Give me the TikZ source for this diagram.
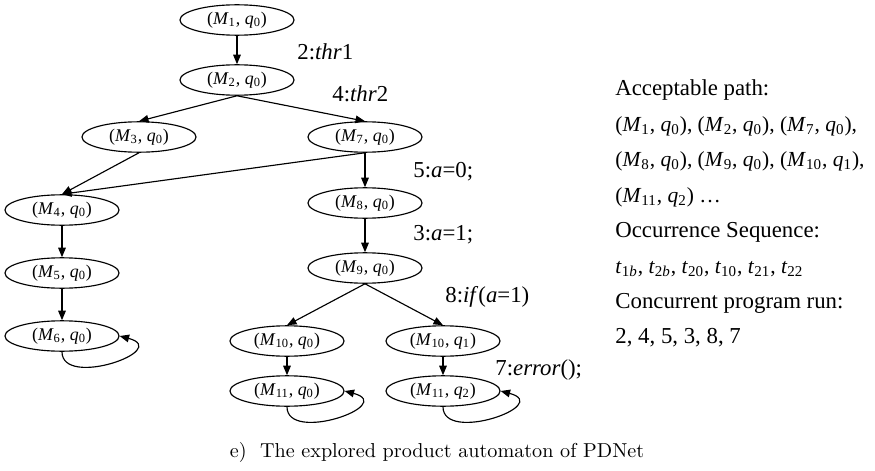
\documentclass[tikz,border=0pt]{standalone}
\usepackage{fontspec}
\newfontfamily\tnr{Liberation Serif}
\usetikzlibrary{shapes.geometric,arrows.meta}
\newcommand{\pq}[2]{(\textit{M}\textsubscript{#1}, \textit{q}\textsubscript{#2})}
\newcommand{\tsub}[1]{\textit{t}\textsubscript{#1}}
\newcommand{\mfs}{\fontsize{11.3}{14}\selectfont}

\begin{document}
\begin{tikzpicture}[x=0.526pt,y=-0.526pt,
		state/.style={ellipse,draw,semithick,minimum width=60pt,minimum height=16pt,inner sep=0pt,
			font=\tnr\fontsize{9.4}{12}\selectfont},
		lbl/.style={anchor=west,inner sep=0pt,font=\tnr\fontsize{12}{14}\selectfont},
		>={Triangle[length=5pt,width=4pt]}
		]
		\useasboundingbox (0,0) rectangle (875,471);
		
		\node[state](M1) at (237,20){\pq{1}{0}};
		\node[state](M2) at (237,80){\pq{2}{0}};
		\node[state](M3) at (139,137){\pq{3}{0}};
		\node[state](M7) at (365,137){\pq{7}{0}};
		\node[state](M4) at (62,210){\pq{4}{0}};
		\node[state](M5) at (62,273){\pq{5}{0}};
		\node[state](M6) at (62,336){\pq{6}{0}};
		\node[state](M8) at (365,203){\pq{8}{0}};
		\node[state](M9) at (365,268){\pq{9}{0}};
		\node[state](M10a) at (287,341){\pq{10}{0}};
		\node[state](M10b) at (443,341){\pq{10}{1}};
		\node[state](M11a) at (287,391){\pq{11}{0}};
		\node[state](M11b) at (443,391){\pq{11}{2}};
		
		% statement labels
		\node[lbl](L1) at (297,52){2:\textit{thr}1};
		\node[lbl](L2) at (332,94){4:\textit{thr}2};
		\node[lbl](L3) at (413,172){5:\textit{a}=0;};
		\node[lbl](L4) at (413,235){3:\textit{a}=1;};
		\node[lbl](L5) at (445,297){8:\textit{if}(\textit{a}=1)};
		\node[lbl](L6) at (495,370){7:\textit{error}();};
		
		\draw[semithick,->] (M1) -- (M2);
		\draw[semithick,->] (M2.south) -- (M3.north);
		\draw[semithick,->] (M2.south) -- (M7.north);
		\draw[semithick,->] (M3.south) -- (M4.north);
		\draw[semithick,->] (M7.south) -- (M4.north);
		\draw[semithick,->] (M4) -- (M5);
		\draw[semithick,->] (M5) -- (M6);
		\draw[semithick,->] (M7) -- (M8);
		\draw[semithick,->] (M8) -- (M9);
		\draw[semithick,->] (M9.south) -- (M10a.north);
		\draw[semithick,->] (M9.south) -- (M10b.north);
		\draw[semithick,->] (M10a) -- (M11a);
		\draw[semithick,->] (M10b) -- (M11b);
		\draw[semithick,->] (M6.south) .. controls +(0,37) and +(53,14) .. (M6.east);
		\draw[semithick,->] (M11a.south) .. controls +(0,37) and +(53,14) .. (M11a.east);
		\draw[semithick,->] (M11b.south) .. controls +(0,37) and +(53,14) .. (M11b.east);
		
		% path, sequence and run
		\foreach \t [count=\i] in {
			{Acceptable path:},
			{\mfs\pq{1}{0}, \pq{2}{0}, \pq{7}{0},},
			{\mfs\pq{8}{0}, \pq{9}{0}, \pq{10}{1},},
			{\mfs\pq{11}{2} …},
			{Occurrence Sequence:},
			{\mfs\tsub{1\textit{b}}, \tsub{2\textit{b}}, \tsub{20}, \tsub{10}, \tsub{21}, \tsub{22}},
			{Concurrent program run:},
			{2, 4, 5, 3, 8, 7}}
		\node[lbl,anchor=base west](info\i) at (615,{96+35.4*(\i-1)}){\t};
		
		\node[font=\fontsize{10.6}{12}\selectfont](cap) at (437,452){e)\ \ The explored product automaton of PDNet};
	\end{tikzpicture}
\end{document}
